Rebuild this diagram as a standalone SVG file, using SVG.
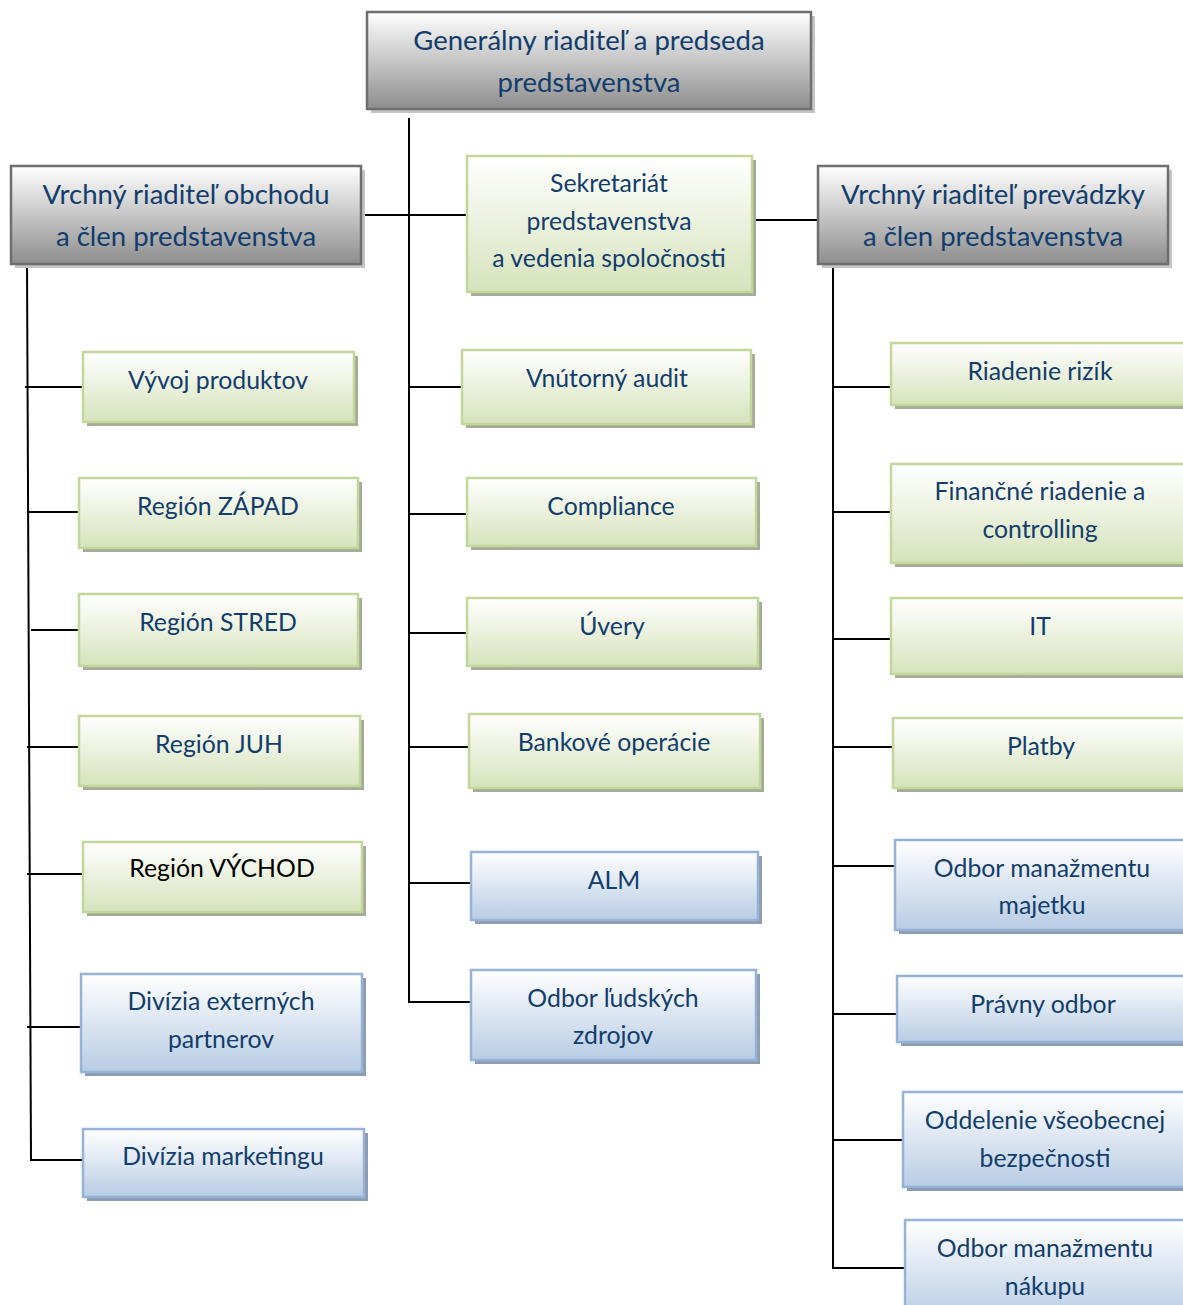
<svg xmlns="http://www.w3.org/2000/svg" width="1183" height="1305" viewBox="0 0 1183 1305">
<defs>
<linearGradient id="gGray" x1="0" y1="0" x2="0" y2="1"><stop offset="0" stop-color="#ffffff"/><stop offset="1" stop-color="#8d8d8d"/></linearGradient>
<linearGradient id="gGreen" x1="0" y1="0" x2="0" y2="1"><stop offset="0" stop-color="#ffffff"/><stop offset="1" stop-color="#d6e3bc"/></linearGradient>
<linearGradient id="gBlue" x1="0" y1="0" x2="0" y2="1"><stop offset="0" stop-color="#ffffff"/><stop offset="1" stop-color="#b8cce4"/></linearGradient>
<style>
.sg{fill:#c4c4c4}
.sr{fill:#a4ab96}
.sb{fill:#8f9cb0}
.gray{fill:url(#gGray);stroke:#6e6e6e;stroke-width:2.5}
.green{fill:url(#gGreen);stroke:#c3d69b;stroke-width:2.5}
.blue{fill:url(#gBlue);stroke:#95b3d7;stroke-width:2.5}
text{font-family:Lato,"Open Sans","DejaVu Sans",sans-serif;fill:#123d6c;text-anchor:middle}
.h{font-size:27.5px}
.n{font-size:24.8px}
.k{fill:#000000}
.c{stroke:#000;stroke-width:2;fill:none}
</style>
</defs>
<g id="connectors">
<line class="c" x1="409" y1="118" x2="409" y2="1003"/>
<line class="c" x1="361" y1="215" x2="467" y2="215"/>
<line class="c" x1="752" y1="220" x2="818" y2="220"/>
<line class="c" x1="409" y1="387" x2="462" y2="387"/>
<line class="c" x1="409" y1="514" x2="467" y2="514"/>
<line class="c" x1="409" y1="633" x2="467" y2="633"/>
<line class="c" x1="409" y1="747" x2="469" y2="747"/>
<line class="c" x1="409" y1="883" x2="471" y2="883"/>
<line class="c" x1="409" y1="1002" x2="471" y2="1002"/>
<line class="c" x1="27" y1="264" x2="31" y2="1161"/>
<line class="c" x1="25" y1="387" x2="83" y2="387"/>
<line class="c" x1="27" y1="512" x2="79" y2="512"/>
<line class="c" x1="31" y1="630" x2="79" y2="630"/>
<line class="c" x1="27" y1="747" x2="79" y2="747"/>
<line class="c" x1="27" y1="874" x2="83" y2="874"/>
<line class="c" x1="27" y1="1027" x2="81" y2="1027"/>
<line class="c" x1="31" y1="1160" x2="86" y2="1160"/>
<line class="c" x1="833" y1="264" x2="833" y2="1269"/>
<line class="c" x1="833" y1="387" x2="891" y2="387"/>
<line class="c" x1="833" y1="512" x2="891" y2="512"/>
<line class="c" x1="833" y1="639" x2="891" y2="639"/>
<line class="c" x1="833" y1="747" x2="893" y2="747"/>
<line class="c" x1="833" y1="866" x2="895" y2="866"/>
<line class="c" x1="833" y1="1014" x2="897" y2="1014"/>
<line class="c" x1="833" y1="1140" x2="903" y2="1140"/>
<line class="c" x1="833" y1="1268" x2="905" y2="1268"/>
</g>
<g id="ceo"><rect class="sg" x="371" y="16" width="444" height="97"/><rect class="gray" x="367" y="12" width="444" height="97"/><text class="h" x="589" y="50">Generálny riaditeľ a predseda</text><text class="h" x="589" y="92">predstavenstva</text></g>
<g id="dir-obchod"><rect class="sg" x="15" y="170" width="350" height="98"/><rect class="gray" x="11" y="166" width="350" height="98"/><text class="h" x="186" y="204">Vrchný riaditeľ obchodu</text><text class="h" x="186" y="246">a člen predstavenstva</text></g>
<g id="dir-prevadzka"><rect class="sg" x="822" y="170" width="350" height="98"/><rect class="gray" x="818" y="166" width="350" height="98"/><text class="h" x="993" y="204">Vrchný riaditeľ prevádzky</text><text class="h" x="993" y="246">a člen predstavenstva</text></g>
<g id="sekretariat"><rect class="sr" x="471" y="160" width="285" height="136"/><rect class="green" x="467" y="156" width="285" height="136"/><text class="n" x="609" y="192">Sekretariát</text><text class="n" x="609" y="230">predstavenstva</text><text class="n" x="609" y="267">a vedenia spoločnosti</text></g>

<g id="vyvoj"><rect class="sr" x="87" y="356" width="271" height="70"/><rect class="green" x="83" y="352" width="271" height="70"/><text class="n" x="218" y="389">Vývoj produktov</text></g>
<g id="zapad"><rect class="sr" x="83" y="482" width="279" height="70"/><rect class="green" x="79" y="478" width="279" height="70"/><text class="n" x="218" y="515">Región ZÁPAD</text></g>
<g id="stred"><rect class="sr" x="83" y="598" width="279" height="72"/><rect class="green" x="79" y="594" width="279" height="72"/><text class="n" x="218" y="631">Región STRED</text></g>
<g id="juh"><rect class="sr" x="83" y="720" width="281" height="70"/><rect class="green" x="79" y="716" width="281" height="70"/><text class="n" x="219" y="753">Región JUH</text></g>
<g id="vychod"><rect class="sr" x="87" y="846" width="279" height="70"/><rect class="green" x="83" y="842" width="279" height="70"/><text class="n k" x="222" y="877">Región VÝCHOD</text></g>
<g id="externi"><rect class="sb" x="85" y="978" width="281" height="98"/><rect class="blue" x="81" y="974" width="281" height="98"/><text class="n" x="221" y="1010">Divízia externých</text><text class="n" x="221" y="1048">partnerov</text></g>
<g id="marketing"><rect class="sb" x="87" y="1133" width="281" height="68"/><rect class="blue" x="83" y="1129" width="281" height="68"/><text class="n" x="223" y="1165">Divízia marketingu</text></g>

<g id="audit"><rect class="sr" x="466" y="354" width="289" height="74"/><rect class="green" x="462" y="350" width="289" height="74"/><text class="n" x="607" y="387">Vnútorný audit</text></g>
<g id="compliance"><rect class="sr" x="471" y="482" width="289" height="68"/><rect class="green" x="467" y="478" width="289" height="68"/><text class="n" x="611" y="515">Compliance</text></g>
<g id="uvery"><rect class="sr" x="471" y="602" width="291" height="68"/><rect class="green" x="467" y="598" width="291" height="68"/><text class="n" x="612" y="635">Úvery</text></g>
<g id="bankove"><rect class="sr" x="473" y="718" width="291" height="74"/><rect class="green" x="469" y="714" width="291" height="74"/><text class="n" x="614" y="751">Bankové operácie</text></g>
<g id="alm"><rect class="sb" x="475" y="856" width="287" height="68"/><rect class="blue" x="471" y="852" width="287" height="68"/><text class="n" x="614" y="889">ALM</text></g>
<g id="ludske"><rect class="sb" x="475" y="974" width="285" height="90"/><rect class="blue" x="471" y="970" width="285" height="90"/><text class="n" x="613" y="1007">Odbor ľudských</text><text class="n" x="613" y="1044">zdrojov</text></g>

<g id="rizika"><rect class="sr" x="895" y="347" width="300" height="62"/><rect class="green" x="891" y="343" width="300" height="62"/><text class="n" x="1040" y="380">Riadenie rizík</text></g>
<g id="financne"><rect class="sr" x="895" y="468" width="300" height="99"/><rect class="green" x="891" y="464" width="300" height="99"/><text class="n" x="1040" y="500">Finančné riadenie a</text><text class="n" x="1040" y="538">controlling</text></g>
<g id="it"><rect class="sr" x="895" y="602" width="300" height="76"/><rect class="green" x="891" y="598" width="300" height="76"/><text class="n" x="1040" y="635">IT</text></g>
<g id="platby"><rect class="sr" x="897" y="722" width="300" height="70"/><rect class="green" x="893" y="718" width="300" height="70"/><text class="n" x="1041" y="755">Platby</text></g>
<g id="majetok"><rect class="sb" x="899" y="844" width="300" height="90"/><rect class="blue" x="895" y="840" width="300" height="90"/><text class="n" x="1042" y="877">Odbor manažmentu</text><text class="n" x="1042" y="914">majetku</text></g>
<g id="pravny"><rect class="sb" x="901" y="980" width="300" height="66"/><rect class="blue" x="897" y="976" width="300" height="66"/><text class="n" x="1043" y="1013">Právny odbor</text></g>
<g id="bezpecnost"><rect class="sb" x="907" y="1096" width="300" height="95"/><rect class="blue" x="903" y="1092" width="300" height="95"/><text class="n" x="1045" y="1129">Oddelenie všeobecnej</text><text class="n" x="1045" y="1167">bezpečnosti</text></g>
<g id="nakup"><rect class="sb" x="909" y="1224" width="300" height="100"/><rect class="blue" x="905" y="1220" width="300" height="100"/><text class="n" x="1045" y="1257">Odbor manažmentu</text><text class="n" x="1045" y="1295">nákupu</text></g>
</svg>
